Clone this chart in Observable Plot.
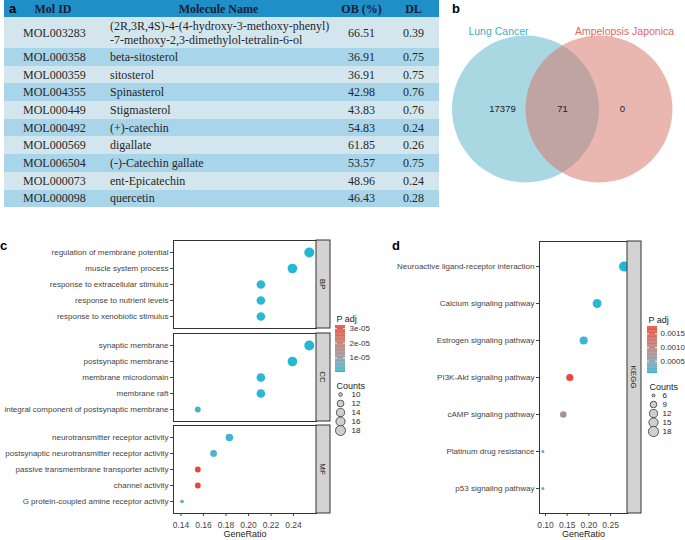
<!DOCTYPE html>
<html><head><meta charset="utf-8">
<script src="https://cdn.jsdelivr.net/npm/d3@7"></script>
<script src="https://cdn.jsdelivr.net/npm/@observablehq/plot@0.6"></script>
<style>
html,body{margin:0;padding:0;background:#fff;}
#fig{position:relative;width:685px;height:540px;overflow:hidden;background:#fff;font-family:"Liberation Sans",Arial,sans-serif;}
.plabel{position:absolute;font-weight:bold;font-size:13px;line-height:16px;color:#000;font-family:"Liberation Sans",Arial,sans-serif;}
table.mol{position:absolute;left:4px;top:0;width:435px;border-collapse:collapse;table-layout:fixed;font-family:"Liberation Serif","Times New Roman",serif;font-size:12px;color:#262626;}
table.mol td,table.mol th{padding:0;border:none;line-height:14px;}
table.mol th{background:#1f8fc8;color:#1a1c38;font-weight:bold;height:17px;text-align:center;}
table.mol td.id{padding-left:19px;text-align:left;}
table.mol td.nm{padding-left:8px;text-align:left;white-space:pre-line;}
table.mol td.num{text-align:center;}
table.mol tr.l td{background:#d3e6ee;}
table.mol tr.d td{background:#a8d5ea;}
svg.abs{position:absolute;max-width:none;}
</style></head>
<body><div id="fig"></div>
<script>
// ---------- Panel a: table data ----------
const molIds = ["MOL003283","MOL000358","MOL000359","MOL004355","MOL000449","MOL000492","MOL000569","MOL006504","MOL000073","MOL000098"];
const molNames = ["(2R,3R,4S)-4-(4-hydroxy-3-methoxy-phenyl)\n-7-methoxy-2,3-dimethylol-tetralin-6-ol","beta-sitosterol","sitosterol","Spinasterol","Stigmasterol","(+)-catechin","digallate","(-)-Catechin gallate","ent-Epicatechin","quercetin"];
const obValues = [66.51,36.91,36.91,42.98,43.83,54.83,61.85,53.57,48.96,46.43];
const dlValues = [0.39,0.75,0.75,0.76,0.76,0.24,0.26,0.75,0.24,0.28];
const tableHeaders = ["Mol ID","Molecule Name","OB (%)","DL"];

// ---------- Panel b: Venn data ----------
const vennSets = ["Lung Cancer","Ampelopsis Japonica"];
const vennRegions = ["Lung Cancer","Lung Cancer ∩ Ampelopsis Japonica","Ampelopsis Japonica"];
const vennCounts = [17379, 71, 0];

// ---------- Panel c: GO enrichment ----------
const goCategory = ["BP","BP","BP","BP","BP","CC","CC","CC","CC","CC","MF","MF","MF","MF","MF"];
const goTerms = ["regulation of membrane potential","muscle system process","response to extracellular stimulus","response to nutrient levels","response to xenobiotic stimulus",
  "synaptic membrane","postsynaptic membrane","membrane microdomain","membrane raft","integral component of postsynaptic membrane",
  "neurotransmitter receptor activity","postsynaptic neurotransmitter receptor activity","passive transmembrane transporter activity","channel activity","G protein-coupled amine receptor activity"];
const goRatio = [0.254,0.239,0.211,0.211,0.211, 0.254,0.239,0.211,0.211,0.155, 0.183,0.169,0.155,0.155,0.141];
const goCount = [18,17,15,15,15, 18,17,15,15,11, 13,12,11,11,10];
const goPadj = [2e-8,5e-8,4e-7,4e-7,4e-7, 2e-8,5e-8,4e-7,4e-7,1.5e-6, 1e-6,2e-6,3.2e-5,3.2e-5,2.5e-6];
const goXTicks = [0.14,0.16,0.18,0.20,0.22,0.24];
const goPadjTicks = [1e-5,2e-5,3e-5];
const goCountTicks = [10,12,14,16,18];

// ---------- Panel d: KEGG enrichment ----------
const keggTerms = ["Neuroactive ligand-receptor interaction","Calcium signaling pathway","Estrogen signaling pathway","PI3K-Akt signaling pathway","cAMP signaling pathway","Platinum drug resistance","p53 signaling pathway"];
const keggRatio = [0.281,0.219,0.188,0.156,0.141,0.094,0.094];
const keggCount = [18,14,12,10,9,6,6];
const keggPadj = [0.00006,0.00008,0.00012,0.00176,0.00078,0.00025,0.00025];
const keggXTicks = [0.10,0.15,0.20,0.25];
const keggPadjTicks = [0.0005,0.0010,0.0015];
const keggCountTicks = [6,9,12,15,18];

// ---------- shared styling ----------
const FONT = "Liberation Sans, Arial, sans-serif";
const LOW = "#21b8d6", HIGH = "#e8473d";
const fig = document.getElementById("fig");

function place(svg, left, top) {
  svg.classList.add("abs");
  svg.style.left = left + "px";
  svg.style.top = top + "px";
  fig.appendChild(svg);
}
function label(txt, left, top) {
  const d = document.createElement("div");
  d.className = "plabel"; d.textContent = txt;
  d.style.left = left + "px"; d.style.top = top + "px";
  fig.appendChild(d);
}
const baseStyle = {background: "transparent", fontFamily: FONT, fontSize: "8px", overflow: "visible"};

// ---------- Panel a ----------
{
  const t = document.createElement("table");
  t.className = "mol";
  const cg = document.createElement("colgroup");
  [98, 233, 53, 51].forEach(w => { const c = document.createElement("col"); c.style.width = w + "px"; cg.appendChild(c); });
  t.appendChild(cg);
  const hr = document.createElement("tr");
  tableHeaders.forEach(h => { const th = document.createElement("th"); th.textContent = h; hr.appendChild(th); });
  t.appendChild(hr);
  molIds.forEach((id, i) => {
    const tr = document.createElement("tr");
    tr.className = i % 2 === 0 ? "l" : "d";
    tr.style.height = (i === 0 ? 31 : 17.7) + "px";
    const cells = [[id, "id"], [molNames[i], "nm"], [obValues[i].toFixed(2), "num"], [dlValues[i].toFixed(2), "num"]];
    cells.forEach(([v, cls]) => { const td = document.createElement("td"); td.className = cls; td.textContent = v; tr.appendChild(td); });
    t.appendChild(tr);
  });
  fig.appendChild(t);
  label("a", 9, 1);
}

// ---------- Panel b: Venn ----------
{
  const vennFill = {"Lung Cancer": "#55b1c5", "Ampelopsis Japonica": "#d36f61"};
  const vennText = {"Lung Cancer": "#3db1c7", "Ampelopsis Japonica": "#e2675c"};
  const venn = Plot.plot({
    width: 245, height: 200, marginTop: 35, marginBottom: 18, marginLeft: 0, marginRight: 0,
    x: {type: "point", domain: vennRegions, range: [62, 182], padding: 0, axis: null},
    style: baseStyle,
    marks: [
      Plot.dot([vennSets[0]], {x: d => d, dx: 23, r: 73.5, fill: d => vennFill[d], fillOpacity: 0.5, stroke: null}),
      Plot.dot([vennSets[1]], {x: d => d, dx: -23.5, r: 73.5, fill: d => vennFill[d], fillOpacity: 0.5, stroke: null}),
      Plot.text([vennSets[0]], {x: d => d, frameAnchor: "top", dy: -8, dx: -4, fill: d => vennText[d], fontSize: 10.5}),
      Plot.text([vennSets[1]], {x: d => d, frameAnchor: "top", dy: -8, dx: 2, fill: d => vennText[d], fontSize: 10.5}),
      Plot.text(vennRegions, {x: d => d, text: (d, i) => String(vennCounts[i]), fill: "#222", fontSize: 9.5})
    ]
  });
  place(venn, 440, 0);
  label("b", 452, 1);
}

// ---------- helpers for dot plots ----------
function strip(txt) {
  return (index, scales, values, dim) => {
    const x = dim.width - dim.marginRight;
    const y0 = dim.marginTop, h = dim.height - dim.marginTop - dim.marginBottom;
    const g = d3.create("svg:g");
    g.append("rect").attr("x", x).attr("y", y0).attr("width", 14).attr("height", h)
      .attr("fill", "#d3d3d3").attr("stroke", "#333").attr("stroke-width", 1);
    g.append("text").attr("transform", `translate(${x + 7},${y0 + h / 2}) rotate(90)`)
      .attr("text-anchor", "middle").attr("dy", "0.35em").attr("font-size", 8).attr("fill", "#1a1a1a").text(txt);
    return g.node();
  };
}
function colorBar(colorOpts, ticks, fmt, pad, left, top) {
  const [lo, hi] = colorOpts.domain;
  const n = 60, dv = (hi - lo) / n;
  const samples = d3.range(n).map(i => lo + dv * i);
  const svg = Plot.plot({
    width: 50, height: 62, marginTop: 13, marginBottom: 2, marginLeft: 0, marginRight: 40,
    x: {domain: [0, 1], axis: null},
    y: {domain: [lo, hi], axis: null},
    color: colorOpts,
    style: baseStyle,
    marks: [
      Plot.rect(samples, {x1: 0, x2: 1, y1: d => d, y2: d => Math.min(hi, d + dv * 1.3), fill: d => d + dv / 2}),
      Plot.ruleY(ticks, {x1: 0, x2: 0.2, stroke: "white", strokeWidth: 0.8}),
      Plot.ruleY(ticks, {x1: 0.8, x2: 1, stroke: "white", strokeWidth: 0.8}),
      Plot.axisY(ticks, {anchor: "right", tickSize: 0, tickPadding: pad, tickFormat: fmt, label: null, fontSize: 8, color: "#333"}),
      Plot.text(["P adj"], {frameAnchor: "top-left", dy: -9.5, dx: 1, textAnchor: "start", fontSize: 9, fill: "#222"})
    ]
  });
  place(svg, left, top);
}
function sizeLegend(rOpts, values, dx, left, top) {
  const svg = Plot.plot({
    width: 40, height: 62, marginTop: 12, marginBottom: 2, marginLeft: 0, marginRight: 28,
    y: {type: "point", domain: values, padding: 0.5, axis: null},
    r: rOpts,
    style: baseStyle,
    marks: [
      Plot.dot(values, {y: d => d, r: d => d, fill: "#cfcfcf", stroke: "#333", strokeWidth: 0.8, sort: null}),
      Plot.text(values, {y: d => d, text: d => String(d), dx: dx, textAnchor: "start", fontSize: 8, fill: "#222"}),
      Plot.text(["Counts"], {frameAnchor: "top-left", dy: -6, dx: 2, textAnchor: "start", fontSize: 9, fill: "#222"})
    ]
  });
  place(svg, left, top);
}

// ---------- Panel c ----------
const goColor = {type: "linear", domain: d3.extent(goPadj), range: [LOW, HIGH], interpolate: d3.interpolateLab};
const goR = {type: "sqrt", transform: v => v - 10, domain: [0, 8], range: [1.8, 5.0]};
function goFacet(cat, last, top) {
  const data = d3.range(goTerms.length).filter(i => goCategory[i] === cat)
    .map(i => ({term: goTerms[i], ratio: goRatio[i], count: goCount[i], padj: goPadj[i]}));
  const mb = last ? 28 : 2;
  const svg = Plot.plot({
    width: 332, height: 2 + 88 + mb, marginTop: 2, marginBottom: mb, marginLeft: 173, marginRight: 16,
    x: {domain: [0.1334, 0.2604], axis: null},
    y: {type: "point", domain: data.map(d => d.term), padding: 0.6, axis: null},
    color: goColor, r: goR,
    style: baseStyle,
    marks: [
      Plot.axisY({tickSize: 3, tickPadding: 2, label: null, fontSize: 8, color: "#444"}),
      last ? Plot.axisX(goXTicks, {tickSize: 3, tickPadding: 5, tickFormat: ".2f", label: null, fontSize: 8.5, color: "#444"}) : null,
      last ? Plot.text(["GeneRatio"], {frameAnchor: "bottom", dy: 23, fontSize: 9, fill: "#222"}) : null,
      Plot.dot(data, {x: "ratio", y: "term", r: "count", fill: "padj", stroke: null, clip: true}),
      Plot.frame({stroke: "#333", strokeWidth: 1}),
      strip(cat)
    ]
  });
  place(svg, 0, top);
}
goFacet("BP", false, 238);
goFacet("CC", false, 330.5);
goFacet("MF", true, 423);
label("c", 0, 238);
colorBar(goColor, goPadjTicks, d => d.toExponential(0).replace(/e([+-])(\d)$/, "e$10$2"), 4, 335, 312);
sizeLegend(goR, goCountTicks, 11, 334, 376);

// ---------- Panel d ----------
const keggColor = {type: "linear", domain: d3.extent(keggPadj), range: [LOW, HIGH], interpolate: d3.interpolateLab};
const keggR = {type: "sqrt", transform: v => v - 6, domain: [0, 12], range: [1.5, 5.1]};
{
  const data = keggTerms.map((t, i) => ({term: t, ratio: keggRatio[i], count: keggCount[i], padj: keggPadj[i]}));
  const svg = Plot.plot({
    width: 305, height: 2 + 272 + 28, marginTop: 2, marginBottom: 28, marginLeft: 199, marginRight: 18,
    x: {domain: [0.0862, 0.289], axis: null},
    y: {type: "point", domain: keggTerms, padding: 0.6, axis: null},
    color: keggColor, r: keggR,
    style: baseStyle,
    marks: [
      Plot.axisY({tickSize: 3, tickPadding: 2, label: null, fontSize: 8, color: "#444"}),
      Plot.axisX(keggXTicks, {tickSize: 3, tickPadding: 5, tickFormat: ".2f", label: null, fontSize: 8.5, color: "#444"}),
      Plot.text(["GeneRatio"], {frameAnchor: "bottom", dy: 23, fontSize: 9, fill: "#222"}),
      Plot.dot(data, {x: "ratio", y: "term", r: "count", fill: "padj", stroke: null, clip: true}),
      Plot.frame({stroke: "#333", strokeWidth: 1}),
      strip("KEGG")
    ]
  });
  place(svg, 340, 239);
  label("d", 392, 238);
  colorBar(keggColor, keggPadjTicks, d3.format(".4f"), 3, 647, 313);
  sizeLegend(keggR, keggCountTicks, 9, 647, 377);
}
</script>
</body></html>
